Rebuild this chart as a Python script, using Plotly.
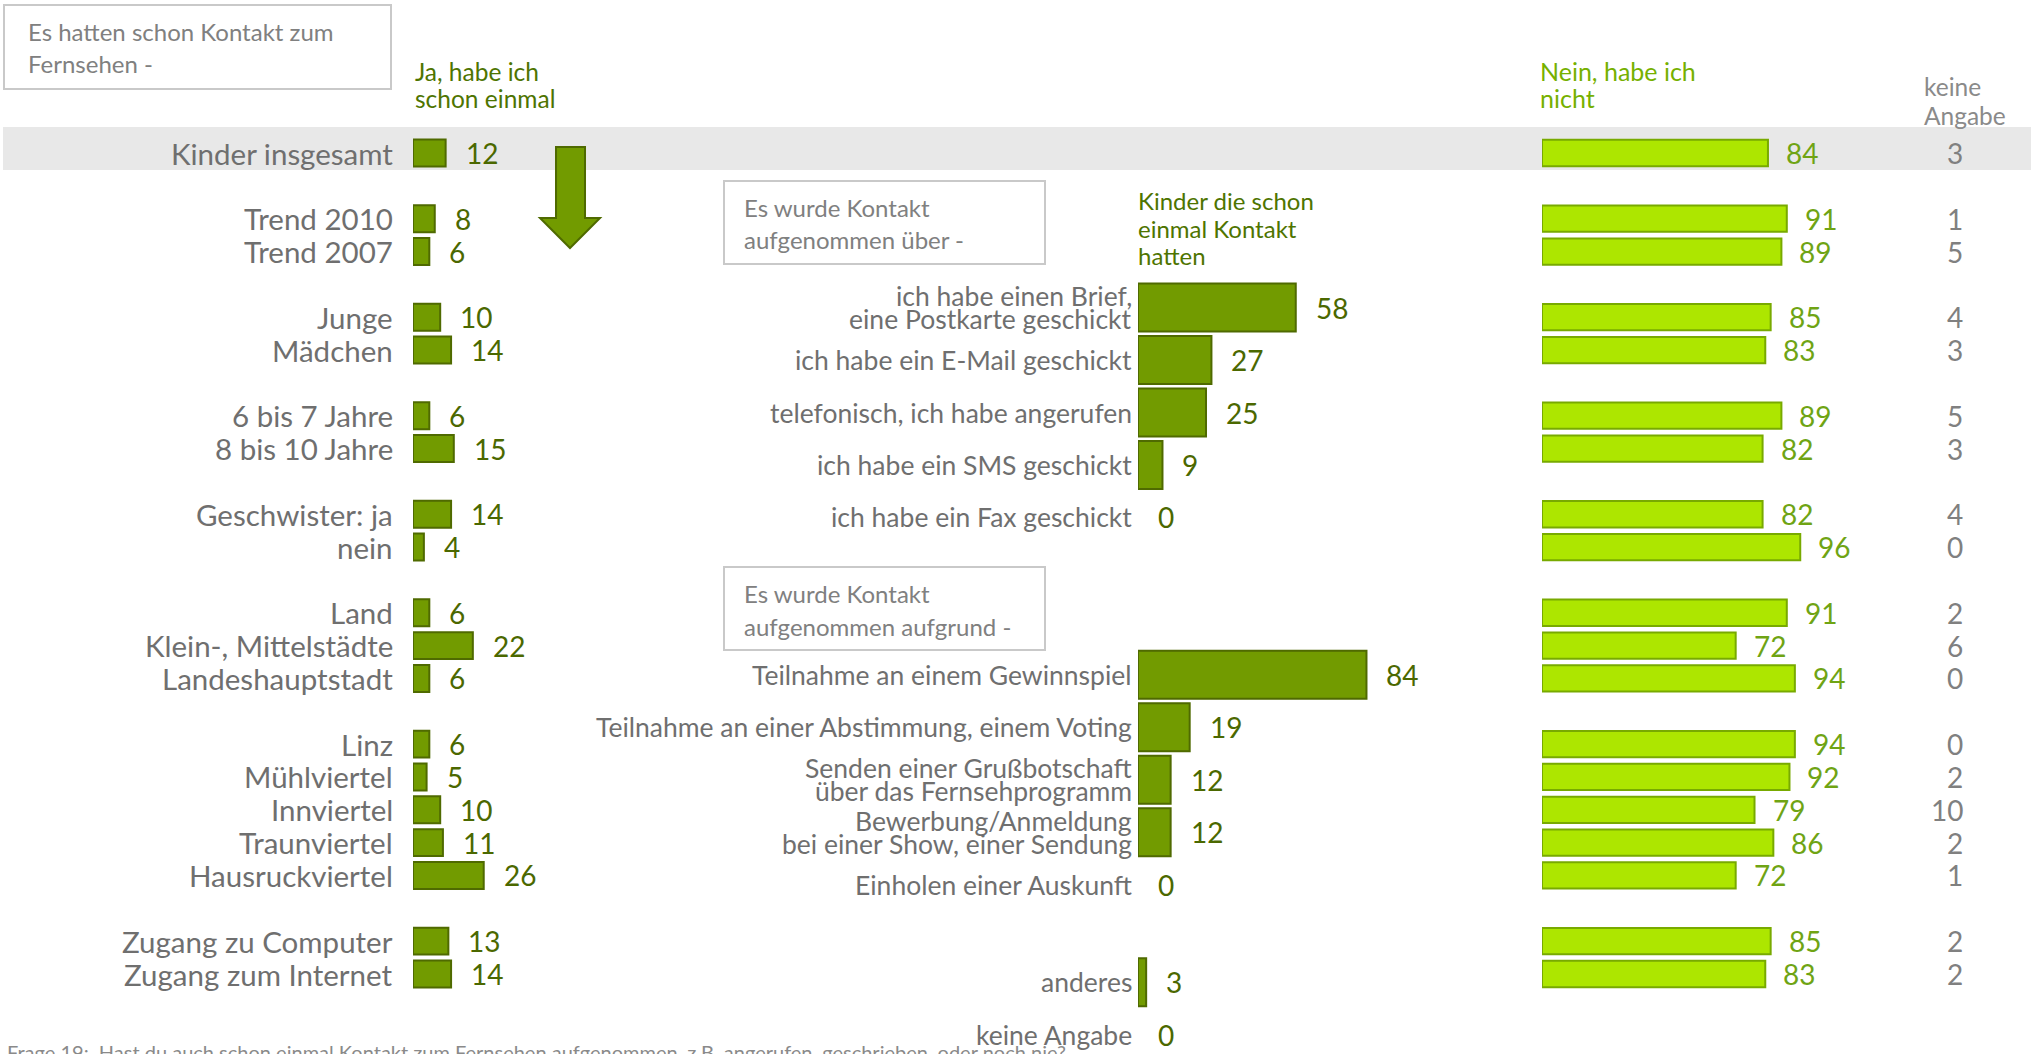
import plotly.graph_objects as go

# ---------------- data ----------------
group_labels = [
    ["Kinder insgesamt"],
    ["Trend 2010", "Trend 2007"],
    ["Junge", "Mädchen"],
    ["6 bis 7 Jahre", "8 bis 10 Jahre"],
    ["Geschwister: ja", "nein"],
    ["Land", "Klein-, Mittelstädte", "Landeshauptstadt"],
    ["Linz", "Mühlviertel", "Innviertel", "Traunviertel", "Hausruckviertel"],
    ["Zugang zu Computer", "Zugang zum Internet"],
]
ja_values = [12, 8, 6, 10, 14, 6, 15, 14, 4, 6, 22, 6, 6, 5, 10, 11, 26, 13, 14]
nein_values = [84, 91, 89, 85, 83, 89, 82, 82, 96, 91, 72, 94, 94, 92, 79, 86, 72, 85, 83]
keine_values = [3, 1, 5, 4, 3, 5, 3, 4, 0, 2, 6, 0, 0, 2, 10, 2, 1, 2, 2]

channel_labels = ["ich habe einen Brief,<br>eine Postkarte geschickt", "ich habe ein E-Mail geschickt",
                  "telefonisch, ich habe angerufen", "ich habe ein SMS geschickt", "ich habe ein Fax geschickt"]
channel_values = [58, 27, 25, 9, 0]
reason_labels = ["Teilnahme an einem Gewinnspiel", "Teilnahme an einer Abstimmung, einem Voting",
                 "Senden einer Grußbotschaft<br>über das Fernsehprogramm",
                 "Bewerbung/Anmeldung<br>bei einer Show, einer Sendung", "Einholen einer Auskunft"]
reason_values = [84, 19, 12, 12, 0]
other_labels = ["anderes", "keine Angabe"]
other_values = [3, 0]

box1_lines = ["Es hatten schon Kontakt zum", "Fernsehen -"]
box2_lines = ["Es wurde Kontakt", "aufgenommen über -"]
box3_lines = ["Es wurde Kontakt", "aufgenommen aufgrund -"]
head_ja = ["Ja, habe ich", "schon einmal"]
head_mid = ["Kinder die schon", "einmal Kontakt", "hatten"]
head_nein = ["Nein, habe ich", "nicht"]
head_keine = ["keine", "Angabe"]
footnote = "Frage 19:  Hast du auch schon einmal Kontakt zum Fernsehen aufgenommen, z.B. angerufen, geschrieben, oder noch nie?"

# ---------------- layout helpers ----------------
W, H = 2031, 1054
def px(x): return x / W
def py(y): return 1 - y / H

left_labels = [l for g in group_labels for l in g]
rows = []
r = 0
for g in group_labels:
    for _ in g:
        rows.append(r)
        r += 1
    r += 1

# gap (in row slots) before each block of the middle panel
mid_groups = [(channel_labels, channel_values, 0), (reason_labels, reason_values, 2), (other_labels, other_values, 0.86)]
mid_labels, mid_values, mid_slots = [], [], []
s = 0
for labs, vals, gap in mid_groups:
    s += gap
    for l, v in zip(labs, vals):
        mid_labels.append(l); mid_values.append(v); mid_slots.append(s)
        s += 1

FONT = "Lato, 'Open Sans', sans-serif"
GRAY = "#6f6f6f"
DARK = "#729b00"
DARK_LINE = "#4f6a00"
LIME = "#ade600"
LIME_LINE = "#78aa00"
DARK_TXT = "#4b6800"
LIME_TXT = "#6fa414"

ROW0, PITCH = 153, 32.84
MROW0, MPITCH = 307.6, 52.46
SCALE_L, SCALE_R = 2.72, 2.69

fig = go.Figure()

fig.add_trace(go.Bar(x=ja_values, y=rows, orientation="h", xaxis="x", yaxis="y", width=0.82,
                     marker=dict(color=DARK, line=dict(color=DARK_LINE, width=[0 if v == 0 else 2 for v in ja_values])),
                     hoverinfo="skip"))
fig.add_trace(go.Bar(x=mid_values, y=mid_slots, orientation="h", xaxis="x2", yaxis="y2", width=0.915,
                     marker=dict(color=DARK, line=dict(color=DARK_LINE, width=[0 if v == 0 else 2 for v in mid_values])),
                     hoverinfo="skip"))
fig.add_trace(go.Bar(x=nein_values, y=rows, orientation="h", xaxis="x3", yaxis="y", width=0.80,
                     marker=dict(color=LIME, line=dict(color=LIME_LINE, width=[0 if v == 0 else 2 for v in nein_values])),
                     hoverinfo="skip"))

ann = []
for lab, v, n, k, rr in zip(left_labels, ja_values, nein_values, keine_values, rows):
    ann.append(dict(x=px(395), xref="paper", y=rr, yref="y", text=lab, xanchor="right", yanchor="middle",
                    showarrow=False, font=dict(family=FONT, size=29.5, color=GRAY)))
    ann.append(dict(x=v, xref="x", y=rr, yref="y", text=str(v), xanchor="left", yanchor="middle", xshift=18,
                    showarrow=False, font=dict(family=FONT, size=28, color=DARK_TXT)))
    ann.append(dict(x=n, xref="x3", y=rr, yref="y", text=str(n), xanchor="left", yanchor="middle", xshift=16,
                    showarrow=False, font=dict(family=FONT, size=28, color=LIME_TXT)))
    ann.append(dict(x=px(1965), xref="paper", y=rr, yref="y", text=str(k), xanchor="right", yanchor="middle",
                    showarrow=False, font=dict(family=FONT, size=28, color="#808080")))

for lab, v, sl in zip(mid_labels, mid_values, mid_slots):
    parts = lab.split("<br>")
    nl = len(parts)
    for i, p in enumerate(parts):
        shift = (((nl - 1) / 2) - i) * 23
        ann.append(dict(x=px(1134), xref="paper", y=sl, yref="y2", text=p, xanchor="right", yanchor="middle",
                        yshift=shift, showarrow=False, font=dict(family=FONT, size=26.5, color=GRAY)))
    ann.append(dict(x=v, xref="x2", y=sl, yref="y2", text=str(v), xanchor="left", yanchor="middle", xshift=18,
                    showarrow=False, font=dict(family=FONT, size=28, color=DARK_TXT)))

def text_lines(lines, x, y0, dy, color, size):
    for i, t in enumerate(lines):
        ann.append(dict(x=px(x), xref="paper", y=py(y0 + i * dy), yref="paper", text=t, xanchor="left",
                        yanchor="middle", showarrow=False, font=dict(family=FONT, size=size, color=color)))

text_lines(box1_lines, 26, 31, 32, "#808080", 24)
text_lines(box2_lines, 742, 207, 33, "#808080", 24)
text_lines(box3_lines, 742, 593, 33, "#808080", 24)
text_lines(head_ja, 413, 71, 27, "#4e7400", 24.5)
text_lines(head_mid, 1136, 201, 27, "#4e7400", 24)
text_lines(head_nein, 1538, 71, 27, "#76b000", 25)
text_lines(head_keine, 1922, 87, 28, "#8a8a8a", 24.5)
ann.append(dict(x=px(5), xref="paper", y=py(1038), yref="paper", text=footnote, xanchor="left", yanchor="top",
                showarrow=False, font=dict(family=FONT, size=20, color="#8a8a8a")))

shapes = [
    dict(type="rect", xref="paper", yref="paper", x0=px(3), x1=1, y0=py(170), y1=py(127),
         fillcolor="#e8e8e8", line=dict(width=0), layer="below"),
    dict(type="rect", xref="paper", yref="paper", x0=px(4), x1=px(391), y0=py(89), y1=py(5),
         fillcolor="rgba(0,0,0,0)", line=dict(color="#c9c9c9", width=2)),
    dict(type="rect", xref="paper", yref="paper", x0=px(724), x1=px(1045), y0=py(264), y1=py(181),
         fillcolor="rgba(0,0,0,0)", line=dict(color="#c9c9c9", width=2)),
    dict(type="rect", xref="paper", yref="paper", x0=px(724), x1=px(1045), y0=py(650), y1=py(567),
         fillcolor="rgba(0,0,0,0)", line=dict(color="#c9c9c9", width=2)),
]
arrow_pts = [(556, 147), (585, 147), (585, 218), (600, 218), (570, 248), (540, 218), (556, 218)]
path = "M " + " L ".join(f"{px(x):.5f},{py(y):.5f}" for x, y in arrow_pts) + " Z"
shapes.append(dict(type="path", xref="paper", yref="paper", path=path, fillcolor=DARK,
                   line=dict(color=DARK_LINE, width=2)))

hidden = dict(visible=False, showgrid=False, zeroline=False, fixedrange=True)
fig.update_layout(
    width=W, height=H, margin=dict(l=0, r=0, t=0, b=0), autosize=False,
    paper_bgcolor="white", plot_bgcolor="rgba(0,0,0,0)", showlegend=False, barmode="overlay",
    xaxis=dict(domain=[px(413), px(413 + SCALE_L * 30)], range=[0, 30], anchor="y", **hidden),
    xaxis2=dict(domain=[px(1138), px(1138 + SCALE_L * 100)], range=[0, 100], anchor="y2", **hidden),
    xaxis3=dict(domain=[px(1542), px(1542 + SCALE_R * 100)], range=[0, 100], anchor="y", **hidden),
    yaxis=dict(domain=[0, 1], range=[(H - ROW0) / PITCH, -ROW0 / PITCH], anchor="x", **hidden),
    yaxis2=dict(domain=[0, 1], range=[(H - MROW0) / MPITCH, -MROW0 / MPITCH], anchor="x2", **hidden),
    annotations=ann, shapes=shapes,
)
fig.write_html("out.html", config={"displayModeBar": False},
               post_script="document.body.style.margin='0';document.body.style.overflow='hidden';")
